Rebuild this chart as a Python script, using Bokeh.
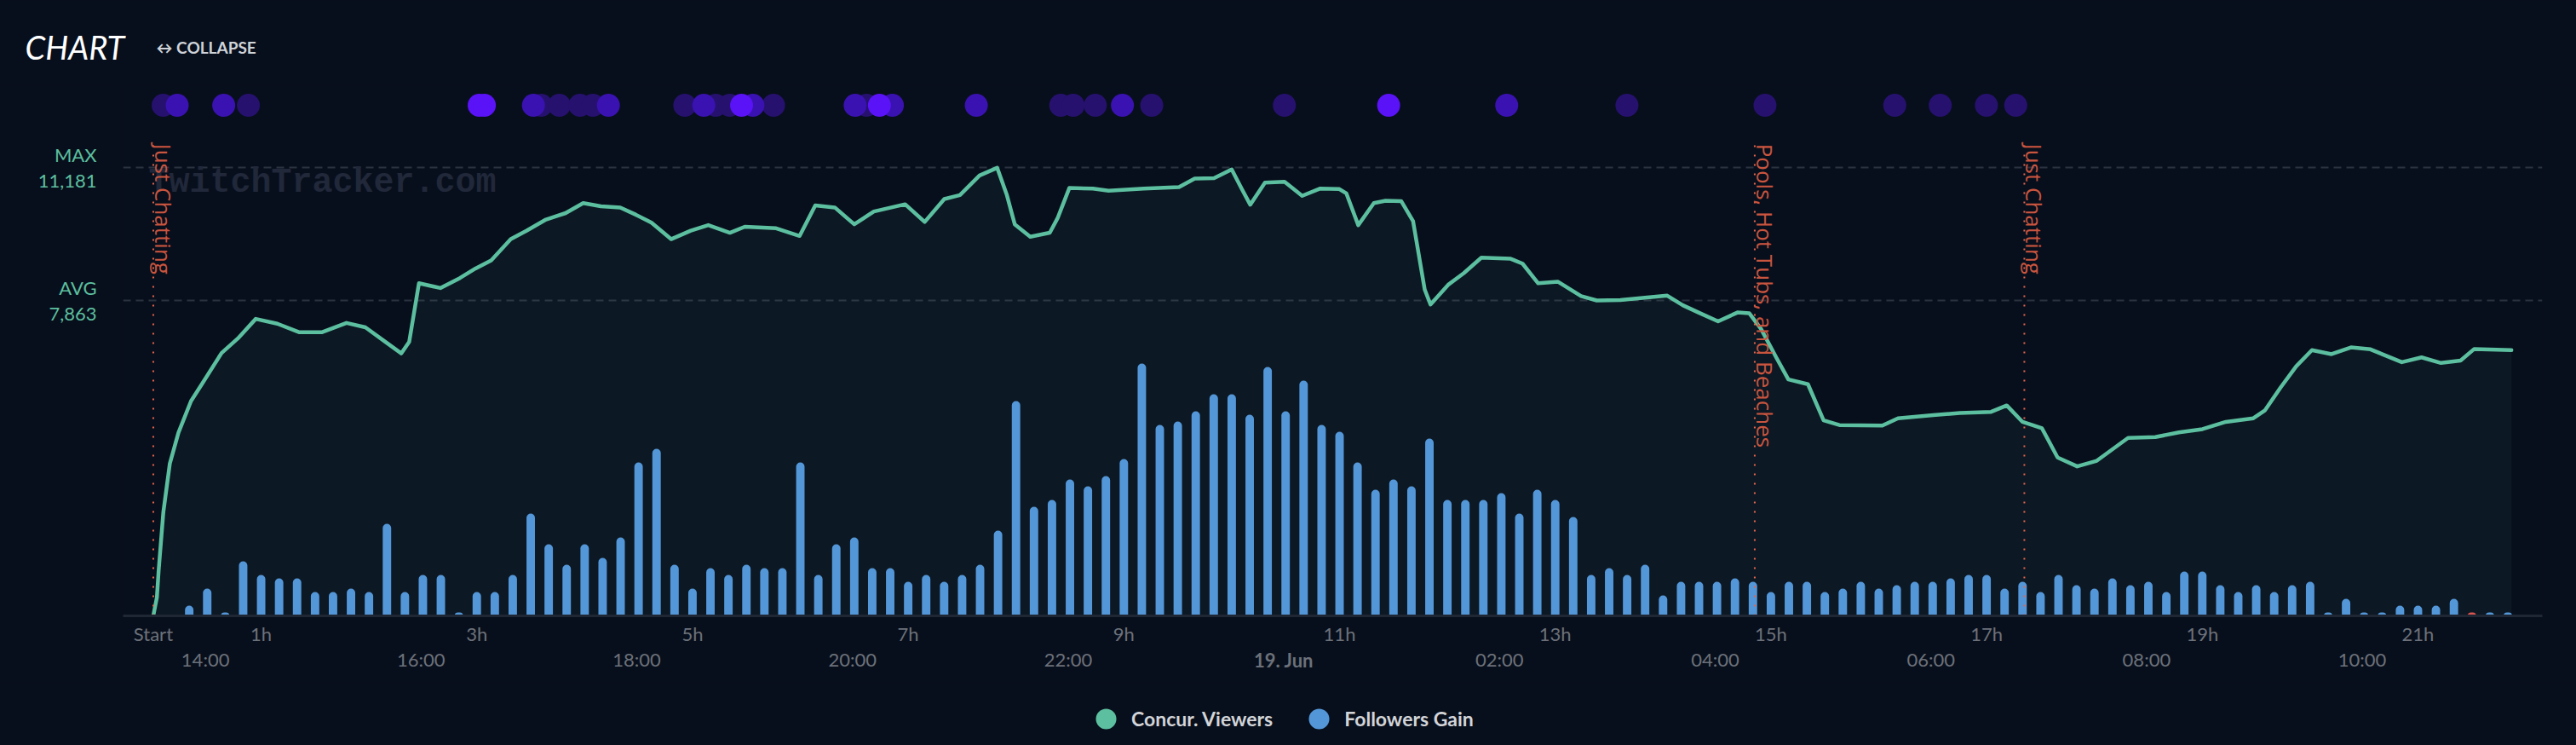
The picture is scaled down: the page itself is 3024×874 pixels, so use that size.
import math
from bokeh.plotting import figure
from bokeh.layouts import column
from bokeh.models import (ColumnDataSource, Range1d, LinearAxis, FixedTicker, Grid,
                          Label, Legend, LegendItem)
from bokeh.core.properties import value
from bokeh.embed import file_html
from bokeh.resources import INLINE

# ---------------- data ----------------
# concurrent viewers: minutes since stream start, viewers
view_t = [0, 2, 3, 5.6, 9.2, 14, 21, 27, 38, 47, 57, 69, 81, 94, 107.5, 118, 129, 138, 142.4,
          147.8, 159.7, 170.6, 179.3, 188, 198.9, 207.6, 218.5, 229.4, 239.2, 249, 259.8, 268.5,
          277.2, 288.1, 299, 308.8, 320.8, 329.1, 346.5, 359.6, 368.3, 379.2, 390, 400.9, 418.3,
          429.2, 440.1, 448.8, 459.7, 469.5, 474.9, 479.3, 487.9, 498.8, 503.2, 509.7, 522.8,
          531.5, 551.1, 570.7, 579.4, 590.2, 600, 605.5, 610.3, 618.5, 629.4, 639.2, 649, 659.9,
          663.8, 670.4, 679.1, 685.6, 694.3, 700.9, 707.4, 710.6, 720.4, 729.1, 738.9, 755.2,
          761.8, 770.5, 781.4, 794.4, 803.1, 816.2, 842.3, 851, 859.7, 870.6, 881.4, 888, 894.5,
          903.2, 909.7, 920.6, 929.3, 938.1, 962, 970.7, 990.3, 1005.1, 1022.5, 1031.2, 1040,
          1050.8, 1059.5, 1070.4, 1081.3, 1098.7, 1113.9, 1127, 1140.1, 1153.1, 1168.4, 1174.9,
          1183.6, 1192.3, 1201, 1211.9, 1222.7, 1233.6, 1251, 1262, 1272.8, 1283.7, 1291.3, 1312]
view_v = [0, 460, 1140, 2590, 3800, 4570, 5360, 5780, 6560, 6920, 7410, 7290, 7080, 7080, 7310,
          7200, 6840, 6550, 6840, 8300, 8180, 8430, 8670, 8870, 9400, 9610, 9890, 10050, 10300,
          10220, 10190, 10010, 9810, 9400, 9610, 9750, 9560, 9710, 9670, 9480, 10240, 10190, 9770,
          10090, 10270, 9830, 10400, 10500, 10990, 11181, 10500, 9770, 9460, 9560, 9930, 10680,
          10660, 10610, 10660, 10700, 10910, 10920, 11140, 10660, 10260, 10810, 10830, 10480,
          10660, 10650, 10540, 9750, 10300, 10360, 10350, 9850, 8140, 7770, 8260, 8550, 8940,
          8910, 8790, 8300, 8340, 7980, 7870, 7880, 7990, 7750, 7570, 7350, 7570, 7550, 7160,
          6430, 5900, 5780, 4880, 4760, 4750, 4930, 5010, 5060, 5090, 5250, 4840, 4680, 3950,
          3730, 3870, 4440, 4460, 4580, 4660, 4840, 4930, 5130, 5700, 6230, 6630, 6530, 6700,
          6650, 6330, 6450, 6310, 6370, 6660, 6630]

# followers gained per 10-minute bucket (bucket k starts k*10 min after start)
followers = [0, 0, 3, 8, 1, 16, 12, 11, 11, 7, 7, 8, 7, 27, 7, 12, 12, 1, 7, 7,
             12, 30, 21, 15, 21, 17, 23, 45, 49, 15, 8, 14, 12, 15, 14, 14, 45, 12, 21, 23,
             14, 14, 10, 12, 10, 12, 15, 25, 63, 32, 34, 40, 38, 41, 46, 74, 56, 57, 60, 65,
             65, 59, 73, 60, 69, 56, 54, 45, 37, 40, 38, 52, 34, 34, 34, 36, 30, 37, 34, 29,
             12, 14, 12, 15, 6, 10, 10, 10, 11, 10, 7, 10, 10, 7, 8, 10, 8, 9, 10, 10,
             11, 12, 12, 8, 10, 7, 12, 9, 8, 11, 9, 10, 7, 13, 13, 9, 7, 9, 7, 9,
             10, 1, 5, 1, 1, 3, 3, 3, 5, -1, 1, 1]
BUCKET_MIN = 10

# clip / event markers: minute, intensity level (0 low, 1 mid, 2 high)
event_t = [5.5, 13.3, 39.2, 52.9, 181.3, 184.2, 211.5, 215.8, 225.9, 237.4, 244.6, 253.2,
           295.7, 306.3, 312.9, 320.7, 327.3, 333.6, 345.1, 390.5, 396.8, 404.0, 411.2,
           457.9, 504.9, 511.8, 524.1, 539.2, 555.5, 629.3, 687.3, 753.0, 819.9, 896.7,
           968.9, 994.2, 1019.9, 1036.2]
event_level = [0, 1, 1, 0, 2, 2, 1, 0, 0, 0, 0, 1,
               0, 1, 0, 0, 2, 1, 0, 1, 0, 2, 1,
               1, 0, 0, 0, 1, 0, 0, 2, 1, 0, 0,
               0, 0, 0, 0]

# game changes
game_t = [0, 891, 1041]
game_names = ["Just Chatting", "Pools, Hot Tubs, and Beaches", "Just Chatting"]

MAX_VIEWERS = 11181
AVG_VIEWERS = 7863
START_MIN_OF_DAY = 13 * 60 + 31

rel_ticks = [0, 60, 180, 300, 420, 540, 660, 780, 900, 1020, 1140, 1260]
rel_labels = ["Start", "1h", "3h", "5h", "7h", "9h", "11h", "13h", "15h", "17h", "19h", "21h"]
clock_hours = [14, 16, 18, 20, 22, 26, 28, 30, 32, 34]
clock_labels = ["14:00", "16:00", "18:00", "20:00", "22:00",
                "02:00", "04:00", "06:00", "08:00", "10:00"]
day_hours = [24]
day_labels = ["19. Jun"]

legend_labels = ["Concur. Viewers", "Followers Gain"]

# ---------------- style ----------------
BG = "#080f1c"
TEAL = "#5cbf9f"
BLUE = "#5497d9"
RED_NEG = "#d9534f"
LEVEL_COLORS = ["#26116f", "#3a12b1", "#5a12f6"]
GRID_C = "#2a3240"
AXIS_TXT = "#6c717a"
GAME_LINE_C = "#e5644c"
GAME_TXT_C = "#c9553f"
EVENT_ROW_Y = 12740
GAME_LINE_TOP = 11780
FOLLOW_RANGE_END = 155.5

W = 3024


def bare_fig(h):
    f = figure(width=W, height=h, output_backend="svg", toolbar_location=None,
               x_range=Range1d(0, 1), y_range=Range1d(0, 1), min_border=0,
               x_axis_type=None, y_axis_type=None)
    f.background_fill_color = BG
    f.border_fill_color = BG
    f.outline_line_color = None
    f.xgrid.visible = False
    f.ygrid.visible = False
    f.frame_align = False
    return f


# ---------------- header ----------------
head = bare_fig(100)
head.add_layout(Label(x=29, y=46, x_units="screen", y_units="screen", text="CHART",
                      text_font="Lato", text_font_style="italic", text_font_size="38px",
                      text_color="#ffffff", text_baseline="middle"))
head.add_layout(Label(x=183, y=45, x_units="screen", y_units="screen", text="\u2194 COLLAPSE",
                      text_font="Lato", text_font_style="bold", text_font_size="19px",
                      text_color="#cfd3d9", text_baseline="middle"))

# ---------------- main chart ----------------
p = figure(width=W, height=700, output_backend="svg", toolbar_location=None,
           x_range=Range1d(-16.8, 1329.2), y_range=Range1d(0, 13230),
           min_border_left=144, min_border_right=40, min_border_top=0,
           min_border_bottom=78, x_axis_type=None, y_axis_type=None)
p.background_fill_color = BG
p.border_fill_color = BG
p.outline_line_color = None
p.frame_align = False
p.extra_y_ranges = {"fol": Range1d(0, FOLLOW_RANGE_END)}

yax = LinearAxis(ticker=FixedTicker(ticks=[AVG_VIEWERS, MAX_VIEWERS]),
                 major_label_overrides={MAX_VIEWERS: "MAX\n{:,}".format(MAX_VIEWERS),
                                        AVG_VIEWERS: "AVG\n{:,}".format(AVG_VIEWERS)})
yax.axis_line_color = None
yax.major_tick_line_color = None
yax.minor_tick_line_color = None
yax.major_tick_out = 0
yax.major_label_standoff = 31
yax.major_label_text_font = "Lato"
yax.major_label_text_font_size = "22px"
yax.major_label_text_color = TEAL
yax.major_label_text_line_height = 1.1
yax.major_label_text_align = "right"
p.add_layout(yax, "left")
p.add_layout(Grid(dimension=1, ticker=yax.ticker, grid_line_color=GRID_C,
                  grid_line_dash="9 6", grid_line_width=2))


def x_axis(ticks, labels, standoff, style="normal", line=None):
    ax = LinearAxis(ticker=FixedTicker(ticks=ticks),
                    major_label_overrides={t: l for t, l in zip(ticks, labels)})
    ax.axis_line_color = line
    ax.axis_line_width = 3
    ax.major_tick_line_color = None
    ax.minor_tick_line_color = None
    ax.major_tick_out = 0
    ax.major_tick_in = 0
    ax.major_label_standoff = standoff
    ax.major_label_text_font = "Lato"
    ax.major_label_text_font_style = style
    ax.major_label_text_font_size = "22px"
    ax.major_label_text_color = AXIS_TXT
    return ax


p.add_layout(x_axis(rel_ticks, rel_labels, 7, line="#1f2734"), "below")
p.add_layout(x_axis([h * 60 - START_MIN_OF_DAY for h in clock_hours], clock_labels, 0), "below")
p.add_layout(x_axis([h * 60 - START_MIN_OF_DAY for h in day_hours], day_labels, -29,
                    style="bold"), "below")

p.add_layout(Label(x=30, y=508, x_units="screen", y_units="screen",
                   text="TwitchTracker.com", text_font="Liberation Mono",
                   text_font_style="bold", text_font_size="40px", text_color="#20283a",
                   text_baseline="middle", level="underlay"))

vsrc = ColumnDataSource(dict(t=view_t, v=view_v))
p.varea(x="t", y1=0, y2="v", source=vsrc, fill_color=TEAL, fill_alpha=0.055)

fsrc = ColumnDataSource(dict(
    t=[k * BUCKET_MIN for k in range(len(followers))],
    top=[abs(f) for f in followers],
    c=[BLUE if f >= 0 else RED_NEG for f in followers]))
p.vbar(x="t", top="top", bottom=0, width=4.7, source=fsrc, fill_color="c",
       line_color=None, y_range_name="fol", border_radius=(5, 5, 0, 0))

p.line(x="t", y="v", source=vsrc, line_color=TEAL, line_width=4.5,
       line_join="round", line_cap="round")

gsrc = ColumnDataSource(dict(t=game_t, name=game_names,
                             top=[GAME_LINE_TOP] * len(game_t)))
p.segment(x0="t", y0=0, x1="t", y1="top", source=gsrc, line_color=GAME_LINE_C,
          line_width=2, line_dash="2 9")
p.text(x="t", y="top", text="name", source=gsrc, angle=-math.pi / 2, x_offset=12,
       text_font=value("Open Sans"), text_font_size="26px", text_color=GAME_TXT_C,
       text_baseline="alphabetic", text_align="left")

order = sorted(range(len(event_t)), key=lambda i: event_level[i])
esrc = ColumnDataSource(dict(t=[event_t[i] for i in order],
                             y=[EVENT_ROW_Y] * len(order),
                             c=[LEVEL_COLORS[event_level[i]] for i in order]))
p.scatter(x="t", y="y", source=esrc, size=27, fill_color="c", line_color=None,
          marker="circle")

# ---------------- footer legend ----------------
foot = bare_fig(74)
# legend swatch proxies (placed outside the visible range; only their legend glyph shows)
leg_src = ColumnDataSource(dict(x=[-5.0], y=[-5.0]))
leg1 = foot.scatter(x="x", y="y", source=leg_src, marker="circle", size=24,
                    fill_color=TEAL, line_color=None)
leg2 = foot.scatter(x="x", y="y", source=leg_src, marker="circle", size=24,
                    fill_color=BLUE, line_color=None)
legend = Legend(items=[LegendItem(label=legend_labels[0], renderers=[leg1], index=0),
                       LegendItem(label=legend_labels[1], renderers=[leg2], index=0)],
                orientation="horizontal", location=(1268, 1),
                glyph_width=60, glyph_height=60, label_standoff=0, spacing=24,
                padding=0, margin=0, background_fill_alpha=0, border_line_alpha=0,
                label_text_font="Lato", label_text_font_style="bold",
                label_text_font_size="23px", label_text_color="#d2d4d8")
foot.add_layout(legend, "center")

layout = column(head, p, foot, spacing=0)
html = file_html(layout, INLINE)
html = html.replace("</head>", "<style>html,body{background:%s;margin:0;}</style></head>" % BG, 1)
open("out.html", "w").write(html)
